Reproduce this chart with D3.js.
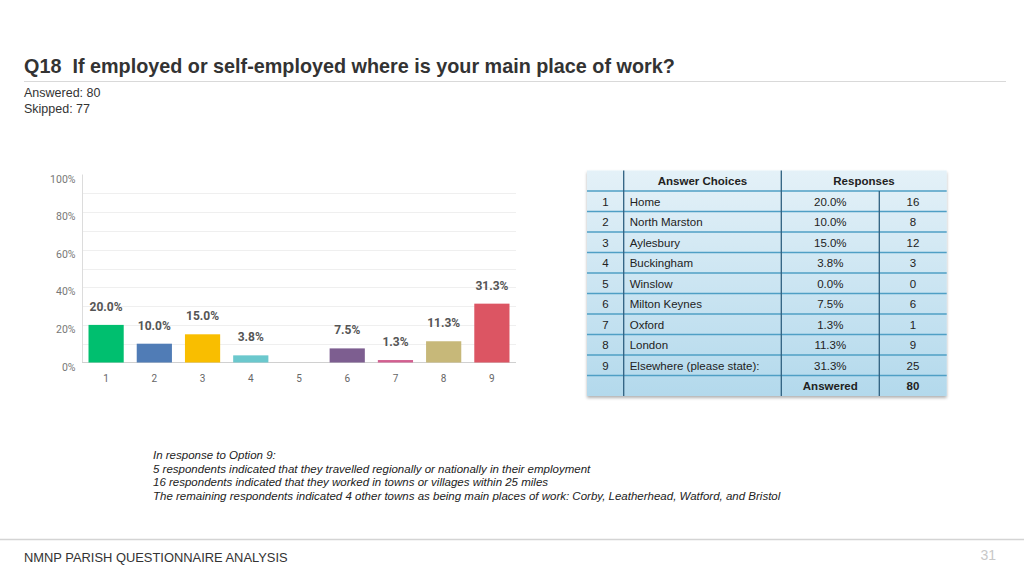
<!DOCTYPE html>
<html>
<head>
<meta charset="utf-8">
<script src="https://cdn.jsdelivr.net/npm/d3@7/dist/d3.min.js"></script>
<style>
  html, body { margin: 0; padding: 0; background: #fff; }
  svg { display: block; }
</style>
</head>
<body>
<svg id="chart" width="1024" height="576"></svg>
<script>
// ---------- data ----------
const categories = ["1", "2", "3", "4", "5", "6", "7", "8", "9"];
const answerChoices = ["Home", "North Marston", "Aylesbury", "Buckingham", "Winslow",
  "Milton Keynes", "Oxford", "London", "Elsewhere (please state):"];
const percents = [20.0, 10.0, 15.0, 3.8, 0.0, 7.5, 1.3, 11.3, 31.3];
const counts = [16, 8, 12, 3, 0, 6, 1, 9, 25];
const barColors = ["#00bf6f", "#507cb6", "#f9be00", "#6bc8cd", "#ff8b4f",
  "#7d5e90", "#d25f90", "#c7b879", "#dc5563"];
const yTicks = [0, 20, 40, 60, 80, 100];
const gridTicks = [10, 20, 30, 40, 50, 60, 70, 80, 90];
const title = "Q18  If employed or self-employed where is your main place of work?";
const answeredText = "Answered: 80";
const skippedText = "Skipped: 77";
const totalAnswered = 80;
const noteLines = [
  "In response to Option 9:",
  "5 respondents indicated that they travelled regionally or nationally in their employment",
  "16 respondents indicated that they worked in towns or villages within 25 miles",
  "The remaining respondents indicated 4 other towns as being main places of work: Corby, Leatherhead, Watford, and Bristol"
];
const footerText = "NMNP PARISH QUESTIONNAIRE ANALYSIS";
const pageNumber = "31";

// ---------- page ----------
const svg = d3.select("#chart");
const font = "'Liberation Sans', Arial, Helvetica, sans-serif";

svg.append("text").attr("x", 24).attr("y", 72.5)
  .attr("font-family", font).attr("font-size", 19.8).attr("font-weight", "bold")
  .attr("fill", "#333").style("white-space", "pre").text(title);
svg.append("line").attr("x1", 24).attr("x2", 1006).attr("y1", 81.5).attr("y2", 81.5)
  .attr("stroke", "#d9d9d9").attr("stroke-width", 1);
svg.append("text").attr("x", 24).attr("y", 96.5)
  .attr("font-family", font).attr("font-size", 12.5).attr("fill", "#333").text(answeredText);
svg.append("text").attr("x", 24).attr("y", 112.5)
  .attr("font-family", font).attr("font-size", 12.5).attr("fill", "#333").text(skippedText);

// ---------- bar chart ----------
const x = d3.scaleBand().domain(categories).range([82, 516]).paddingInner(0.27).paddingOuter(0.135);
const y = d3.scaleLinear().domain([0, 100]).range([362.5, 174.5]);
const g = svg.append("g");

g.selectAll("line.grid").data(gridTicks).enter().append("line")
  .attr("class", "grid")
  .attr("x1", 82).attr("x2", 516)
  .attr("y1", d => Math.round(y(d)) + 0.5).attr("y2", d => Math.round(y(d)) + 0.5)
  .attr("stroke", "#efefef");

g.append("line").attr("x1", 82.5).attr("x2", 82.5).attr("y1", y(100)).attr("y2", y(0))
  .attr("stroke", "#dcdcdc");
g.append("line").attr("x1", 82).attr("x2", 516).attr("y1", y(0)).attr("y2", y(0))
  .attr("stroke", "#d0d0d0");

g.selectAll("text.ytick").data(yTicks).enter().append("text")
  .attr("class", "ytick")
  .attr("x", 75.5).attr("y", d => y(d) + 8)
  .attr("text-anchor", "end")
  .attr("font-family", "Roboto, 'Open Sans', sans-serif").attr("font-size", 10.5)
  .attr("fill", "#777").text(d => d + "%");

g.selectAll("rect.bar").data(categories).enter().append("rect")
  .attr("class", "bar")
  .attr("x", d => x(d))
  .attr("width", x.bandwidth())
  .attr("y", (d, i) => y(percents[i]))
  .attr("height", (d, i) => y(0) - y(percents[i]))
  .attr("fill", (d, i) => barColors[i]);

g.selectAll("text.val").data(categories).enter()
  .filter((d, i) => percents[i] > 0)
  .append("text")
  .attr("class", "val")
  .attr("x", d => x(d) + x.bandwidth() / 2)
  .attr("y", d => y(percents[categories.indexOf(d)]) - 14)
  .attr("text-anchor", "middle")
  .attr("font-family", "Roboto, 'Open Sans', sans-serif").attr("font-size", 12)
  .attr("font-weight", "bold").attr("fill", "#555")
  .text(d => percents[categories.indexOf(d)].toFixed(1) + "%");

g.selectAll("text.xtick").data(categories).enter().append("text")
  .attr("class", "xtick")
  .attr("x", d => x(d) + x.bandwidth() / 2)
  .attr("y", 382)
  .attr("text-anchor", "middle")
  .attr("font-family", "Roboto, 'Open Sans', sans-serif").attr("font-size", 10)
  .attr("fill", "#666").text(d => d);

// ---------- table ----------
const defs = svg.append("defs");
const grad = defs.append("linearGradient").attr("id", "tblGrad")
  .attr("x1", 0).attr("y1", 0).attr("x2", 0).attr("y2", 1);
grad.append("stop").attr("offset", "0%").attr("stop-color", "#e4f1f8");
grad.append("stop").attr("offset", "100%").attr("stop-color", "#b3d9ec");
const shadow = defs.append("filter").attr("id", "shadow").attr("x", "-5%").attr("y", "-5%")
  .attr("width", "110%").attr("height", "115%");
shadow.append("feDropShadow").attr("dx", 0).attr("dy", 2).attr("stdDeviation", 1.5)
  .attr("flood-color", "#000").attr("flood-opacity", 0.3);

const colX = [587, 623.7, 781.3, 879.3, 946.7];
const tblTop = 170.5;
const rowH = 20.5;
const nRows = categories.length + 2;
const tblBottom = tblTop + rowH * nRows;
const rowY = d3.range(nRows + 1).map(i => tblTop + i * rowH);
const tfont = "'Liberation Sans', Arial, Helvetica, sans-serif";
const t = svg.append("g");

t.append("rect").attr("x", colX[0]).attr("y", tblTop)
  .attr("width", colX[4] - colX[0]).attr("height", tblBottom - tblTop)
  .attr("fill", "url(#tblGrad)").attr("filter", "url(#shadow)");

// horizontal lines
t.selectAll("line.h").data(rowY.slice(1, nRows)).enter().append("line")
  .attr("class", "h")
  .attr("x1", colX[0]).attr("x2", colX[4]).attr("y1", d => d).attr("y2", d => d)
  .attr("stroke", "#4f9fc5").attr("stroke-width", 1.3);
// vertical lines
t.append("line").attr("x1", colX[1]).attr("x2", colX[1]).attr("y1", tblTop).attr("y2", tblBottom)
  .attr("stroke", "#2f6080").attr("stroke-width", 1.3);
t.append("line").attr("x1", colX[2]).attr("x2", colX[2]).attr("y1", tblTop).attr("y2", tblBottom)
  .attr("stroke", "#2f6080").attr("stroke-width", 1.3);
t.append("line").attr("x1", colX[3]).attr("x2", colX[3]).attr("y1", rowY[1]).attr("y2", tblBottom)
  .attr("stroke", "#2f6080").attr("stroke-width", 1.3);

function cellText(txt, cx, row, anchor, bold) {
  t.append("text").attr("x", cx).attr("y", rowY[row] + rowH / 2 + 4.5)
    .attr("text-anchor", anchor)
    .attr("font-family", tfont).attr("font-size", 11.5)
    .attr("font-weight", bold ? "bold" : "normal")
    .attr("fill", "#222").text(txt);
}
cellText("Answer Choices", (colX[1] + colX[2]) / 2, 0, "middle", true);
cellText("Responses", (colX[2] + colX[4]) / 2, 0, "middle", true);
categories.forEach((c, i) => {
  cellText(c, (colX[0] + colX[1]) / 2, i + 1, "middle", false);
  cellText(answerChoices[i], colX[1] + 6, i + 1, "start", false);
  cellText(percents[i].toFixed(1) + "%", (colX[2] + colX[3]) / 2, i + 1, "middle", false);
  cellText(String(counts[i]), (colX[3] + colX[4]) / 2, i + 1, "middle", false);
});
cellText("Answered", (colX[2] + colX[3]) / 2, nRows - 1, "middle", true);
cellText(String(totalAnswered), (colX[3] + colX[4]) / 2, nRows - 1, "middle", true);

// ---------- notes ----------
svg.selectAll("text.note").data(noteLines).enter().append("text")
  .attr("class", "note")
  .attr("x", 153).attr("y", (d, i) => 459 + i * 13.7)
  .attr("font-family", font).attr("font-size", 11.5).attr("font-style", "italic")
  .attr("fill", "#222").text(d => d);

// ---------- footer ----------
svg.append("line").attr("x1", 0).attr("x2", 1024).attr("y1", 539.5).attr("y2", 539.5)
  .attr("stroke", "#d4d4d4").attr("stroke-width", 1.5);
svg.append("text").attr("x", 24).attr("y", 562)
  .attr("font-family", font).attr("font-size", 12.9).attr("fill", "#333").text(footerText);
svg.append("text").attr("x", 996).attr("y", 560).attr("text-anchor", "end")
  .attr("font-family", font).attr("font-size", 14).attr("fill", "#c8c8c8").text(pageNumber);
</script>
</body>
</html>
